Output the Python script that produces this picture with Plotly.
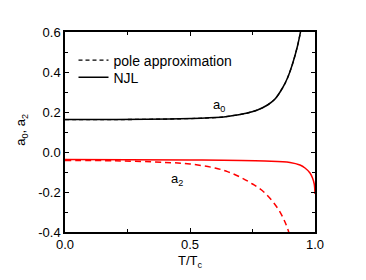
import plotly.graph_objects as go

# a0 (NJL, solid black)
t_a0 = [0.0, 0.2, 0.46, 0.6, 0.65, 0.73, 0.77, 0.81, 0.84, 0.87, 0.89, 0.91, 0.93, 0.945]
a0_njl = [0.163, 0.163, 0.166, 0.172, 0.178, 0.195, 0.21, 0.235, 0.265, 0.32, 0.37, 0.44, 0.53, 0.62]
# a0 (pole approximation, dashed black) - lies on top of the NJL curve
a0_pole = [0.162, 0.162, 0.166, 0.172, 0.178, 0.195, 0.21, 0.235, 0.265, 0.32, 0.37, 0.44, 0.53, 0.62]

# a2 (NJL, solid red)
t_a2n = [0.0, 0.5, 0.8, 0.9, 0.94, 0.96, 0.98, 0.99, 0.997, 1.0]
a2_njl = [-0.038, -0.040, -0.045, -0.052, -0.065, -0.08, -0.105, -0.13, -0.16, -0.21]
# a2 (pole approximation, dashed red)
t_a2p = [0.0, 0.2, 0.4, 0.5, 0.6, 0.65, 0.7, 0.75, 0.8, 0.85, 0.88, 0.9]
a2_pole = [-0.042, -0.044, -0.052, -0.06, -0.08, -0.098, -0.125, -0.16, -0.205, -0.28, -0.35, -0.42]

x_ticks = [0.0, 0.5, 1.0]
x_ticklabels = ["0.0", "0.5", "1.0"]
y_ticks = [-0.4, -0.2, 0.0, 0.2, 0.4, 0.6]
y_ticklabels = ["-0.4", "-0.2", "0.0", "0.2", "0.4", "0.6"]

FONT = "Liberation Sans, Arial"

fig = go.Figure()
fig.add_trace(go.Scatter(x=t_a0, y=a0_pole, mode="lines", name="pole approximation", legend="legend",
                         line=dict(color="black", width=1.3, dash="4px,3px", shape="spline")))
fig.add_trace(go.Scatter(x=t_a0, y=a0_njl, mode="lines", name="NJL", legend="legend2",
                         line=dict(color="black", width=1.5, shape="spline")))
fig.add_trace(go.Scatter(x=t_a2p, y=a2_pole, mode="lines", showlegend=False,
                         line=dict(color="red", width=1.5, dash="6px,4px", shape="spline")))
fig.add_trace(go.Scatter(x=t_a2n, y=a2_njl, mode="lines", showlegend=False,
                         line=dict(color="red", width=1.5, shape="spline")))

axis_common = dict(showline=True, linecolor="black", linewidth=1.5, mirror="ticks",
                   ticks="inside", ticklen=4, tickwidth=1, tickcolor="black",
                   showgrid=False, zeroline=False, automargin=False,
                   tickfont=dict(family=FONT, size=13, color="black"))

fig.update_xaxes(range=[0, 1.0], tickvals=x_ticks, ticktext=x_ticklabels,
                 minor=dict(ticks="inside", ticklen=3, tickcolor="black", dtick=0.25, tick0=0),
                 **axis_common)
fig.update_yaxes(range=[-0.4, 0.6], tickvals=y_ticks, ticktext=y_ticklabels,
                 minor=dict(ticks="inside", ticklen=3, tickcolor="black", dtick=0.1, tick0=0),
                 **axis_common)

# axis titles
fig.add_annotation(xref="paper", yref="paper", x=0.5, y=-0.15, xanchor="center", yanchor="middle",
                   text="T/T<sub>c</sub>", showarrow=False, font=dict(family=FONT, size=13, color="black"))
fig.add_annotation(xref="paper", yref="paper", x=-0.172, y=0.511, xanchor="center", yanchor="middle",
                   text="a<sub>0</sub>, a<sub>2</sub>", textangle=-90, showarrow=False,
                   font=dict(family=FONT, size=13, color="black"))

# curve labels
fig.add_annotation(x=0.614, y=0.235, text="a<sub>0</sub>", showarrow=False,
                   font=dict(family=FONT, size=13, color="black"))
fig.add_annotation(x=0.446, y=-0.135, text="a<sub>2</sub>", showarrow=False,
                   font=dict(family=FONT, size=13, color="black"))

leg_common = dict(xanchor="left", yanchor="middle", bgcolor="rgba(0,0,0,0)", borderwidth=0,
                  font=dict(family=FONT, size=14, color="black"), itemwidth=30)
fig.update_layout(width=366, height=280, margin=dict(l=57, r=59, t=24, b=56),
                  plot_bgcolor="white", paper_bgcolor="white",
                  legend=dict(x=0.034, y=0.857, **leg_common),
                  legend2=dict(x=0.034, y=0.772, **leg_common))
fig.write_html("out.html")
